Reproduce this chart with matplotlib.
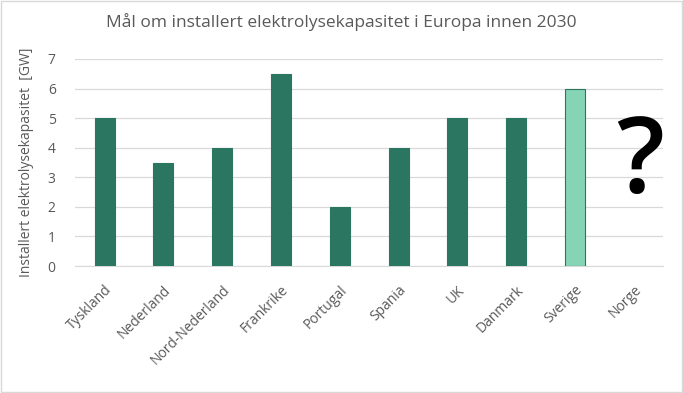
import numpy as np
import matplotlib.pyplot as plt
from matplotlib.patches import Rectangle

plt.rcParams['font.family'] = ['Open Sans', 'DejaVu Sans']

# data
countries = ['Tyskland', 'Nederland', 'Nord-Nederland', 'Frankrike', 'Portugal',
             'Spania', 'UK', 'Danmark', 'Sverige', 'Norge']
capacity_gw = [5, 3.5, 4, 6.5, 2, 4, 5, 5, 6, np.nan]
highlight = 'Sverige'
unknown = 'Norge'
yticks = [0, 1, 2, 3, 4, 5, 6, 7]

dark = '#2b7660'
light = '#86d4b6'
grey = '#595959'

fig = plt.figure(figsize=(6.83, 3.93), dpi=100)
ax = fig.add_axes([0.110, 0.323, 0.861, 0.527])

x = np.arange(len(countries))
colors = [light if c == highlight else dark for c in countries]
ax.bar(x, capacity_gw, width=0.34, color=colors, edgecolor=dark, linewidth=0.8, zorder=3)

# big question mark for the missing value
ax.text(x[countries.index(unknown)] + 0.1, 3.4, '?', fontsize=76, color='black',
        fontweight='semibold', ha='center', va='center', family='Open Sans')

ax.set_xlim(-0.5, len(countries) - 0.5)
ax.set_ylim(0, 7)
ax.set_yticks(yticks)
ax.set_xticks(x)
ax.set_xticklabels(countries, rotation=45, ha='right', rotation_mode='anchor')
ax.tick_params(axis='both', length=0, labelsize=10, colors=grey)
ax.tick_params(axis='x', pad=12)
ax.tick_params(axis='y', pad=14)
ax.grid(axis='y', color='#d9d9d9', linewidth=0.9, zorder=0)
for s in ['top', 'right', 'left']:
    ax.spines[s].set_visible(False)
ax.spines['bottom'].set_color('#d9d9d9')

ax.set_ylabel('Installert elektrolysekapasitet  [GW]', fontsize=10, color=grey, labelpad=10)
fig.text(0.5, 0.944, 'Mål om installert elektrolysekapasitet i Europa innen 2030',
         ha='center', va='center', fontsize=12.5, color=grey)

fig.patches.append(Rectangle((0.002, 0.003), 0.996, 0.994, transform=fig.transFigure,
                             fill=False, edgecolor='#d9d9d9', linewidth=1))

fig.savefig('out.png', dpi=100)
